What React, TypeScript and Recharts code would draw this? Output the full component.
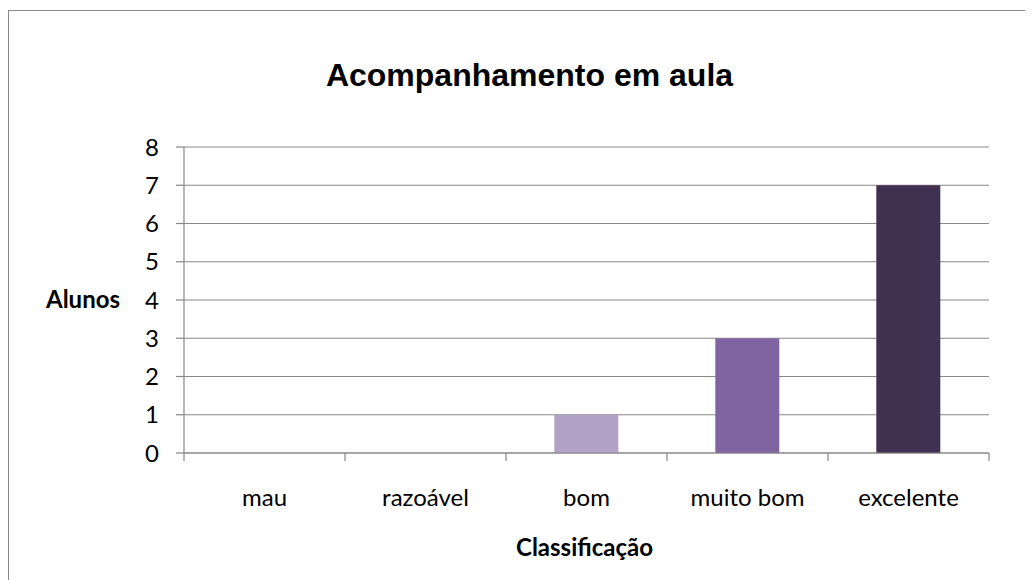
import React from 'react';
import { BarChart, Bar, XAxis, YAxis, CartesianGrid, Cell } from 'recharts';

const categories = ['mau', 'razoável', 'bom', 'muito bom', 'excelente'];
const alunos = [0, 0, 1, 3, 7];
const yTicks = [0, 1, 2, 3, 4, 5, 6, 7, 8];
const edgeTicks = [0, 1, 2, 3, 4, 5];

const barColors = ['#B3A2C7', '#B3A2C7', '#B3A2C7', '#8064A2', '#403151'];

const data = categories.map((c, i) => ({ name: c, pos: i + 0.5, value: alunos[i] }));

const GRAY = '#888888';
const FONT = 'Lato, "Open Sans", sans-serif';

export default function App() {
  return (
    <div style={{ position: 'relative', width: 1025, height: 572, overflow: 'hidden', background: '#fff' }}>
      <div
        style={{
          position: 'absolute',
          left: 0,
          top: 2,
          width: 3000,
          height: 3000,
          borderLeft: `1px solid ${GRAY}`,
          borderTop: `1px solid ${GRAY}`,
        }}
      />
      <div style={{ position: 'absolute', left: 0, top: 0 }}>
        <BarChart
          width={1025}
          height={572}
          data={data}
          margin={{ top: 139, right: 44, bottom: 100, left: 0 }}
          barCategoryGap="30%"
        >
          <CartesianGrid xAxisId="catX" vertical={false} stroke={GRAY} strokeWidth={1.2} />
          <XAxis
            xAxisId="catX"
            dataKey="name"
            height={26}
            axisLine={false}
            tickLine={false}
            tickSize={8}
            tickMargin={27}
            interval={0}
            tick={{ fill: '#000', fontSize: 24, fontFamily: FONT }}
          />
          <XAxis
            xAxisId="axEdges"
            dataKey="pos"
            type="number"
            domain={[0, 5]}
            ticks={edgeTicks}
            interval={0}
            tickFormatter={() => ''}
            tickSize={8}
            height={1}
            axisLine={{ stroke: GRAY, strokeWidth: 1.2 }}
            tickLine={{ stroke: GRAY, strokeWidth: 1.2 }}
            allowDataOverflow
          />
          <YAxis
            width={176}
            domain={[0, 8]}
            ticks={yTicks}
            interval={0}
            tickSize={8}
            tickMargin={17}
            axisLine={{ stroke: GRAY, strokeWidth: 1.2 }}
            tickLine={{ stroke: GRAY, strokeWidth: 1.2 }}
            tick={{ fill: '#000', fontSize: 24, fontFamily: FONT }}
          />
          <Bar dataKey="value" xAxisId="catX" isAnimationActive={false}>
            {data.map((d, i) => (
              <Cell key={d.name} fill={barColors[i]} />
            ))}
          </Bar>
        </BarChart>
      </div>
      <svg
        width={1025}
        height={572}
        style={{ position: 'absolute', left: 0, top: 0, pointerEvents: 'none' }}
      >
        <text
          x={521.5}
          y={78}
          textAnchor="middle"
          fontFamily='"Liberation Sans", Arial, sans-serif'
          fontWeight="bold"
          fontSize={32}
          fill="#000"
        >
          Acompanhamento em aula
        </text>
        <text x={75} y={300} textAnchor="middle" fontFamily={FONT} fontWeight="bold" fontSize={24} fill="#000">
          Alunos
        </text>
        <text x={576.5} y={548} textAnchor="middle" fontFamily={FONT} fontWeight="bold" fontSize={24} fill="#000">
          Classificação
        </text>
      </svg>
    </div>
  );
}
